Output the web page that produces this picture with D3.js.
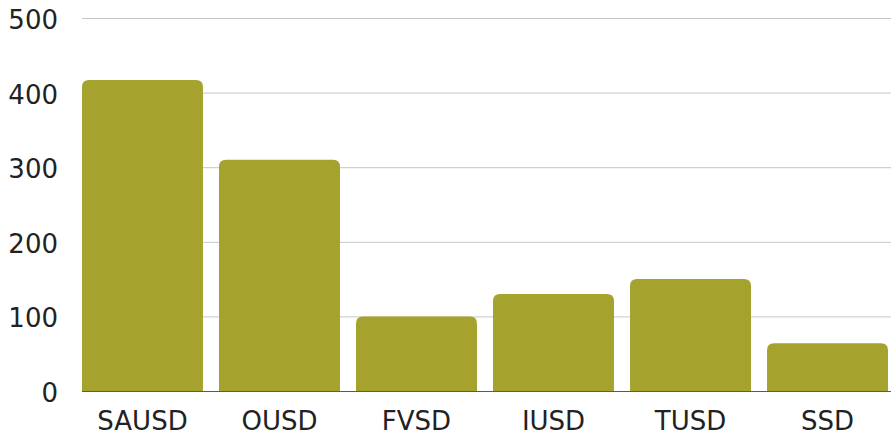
<!DOCTYPE html>
<html>
<head>
<meta charset="utf-8">
<script src="https://cdn.jsdelivr.net/npm/d3@7"></script>
<style>
  body { margin: 0; background: #fff; }
  svg text { font-family: "DejaVu Sans", sans-serif; fill: #1e1e1e; }
</style>
</head>
<body>
<div id="chart"></div>
<script>
// district enrollment values
const districts = ["SAUSD", "OUSD", "FVSD", "IUSD", "TUSD", "SSD"];
const values = [417, 310, 100, 130, 150, 64];
const yTicks = [0, 100, 200, 300, 400, 500];

const width = 891, height = 438;
const margin = { top: 18, right: 3, bottom: 47, left: 82 };

let svg = d3.select("#chart").append("svg")
    .attr("width", width)
    .attr("height", height);

let x = d3.scaleBand()
    .domain(districts)
    .range([margin.left, width - margin.right])
    .paddingInner(0.117)
    .paddingOuter(0);

let y = d3.scaleLinear()
    .domain([0, 500])
    .range([height - margin.bottom, margin.top]);

// gridlines + y labels
let yAxis = svg.append("g")
    .attr("transform", "translate(" + margin.left + ",0)")
    .call(d3.axisLeft(y).tickValues(yTicks).tickSize(-(width - margin.left)).tickPadding(24));
yAxis.select(".domain").remove();
yAxis.selectAll(".tick line").attr("stroke", "#c6c6c6").attr("stroke-width", 1);
yAxis.selectAll(".tick text")
    .attr("font-size", 26)
    .attr("dy", "0.4em")
    .style("fill", "#222");

// bars with rounded tops
const r = 7;
function barPath(d, i) {
    let x0 = x(districts[i]), w = x.bandwidth();
    let yt = y(d), yb = y(0);
    return "M" + x0 + "," + yb +
        "V" + (yt + r) +
        "Q" + x0 + "," + yt + " " + (x0 + r) + "," + yt +
        "H" + (x0 + w - r) +
        "Q" + (x0 + w) + "," + yt + " " + (x0 + w) + "," + (yt + r) +
        "V" + yb + "Z";
}

svg.append("g").selectAll("path")
    .data(values)
    .enter()
    .append("path")
    .attr("fill", "#a5a32e")
    .attr("d", barPath);

// x axis
let xAxis = svg.append("g")
    .attr("transform", "translate(0," + y(0) + ")")
    .call(d3.axisBottom(x).tickSize(0).tickPadding(21));
xAxis.select(".domain")
    .attr("d", "M" + margin.left + ",0.5H" + width)
    .attr("stroke", "#5a5a5a");
xAxis.selectAll(".tick text")
    .attr("font-size", 26)
    .attr("dy", "0.71em")
    .style("fill", "#222");
</script>
</body>
</html>
